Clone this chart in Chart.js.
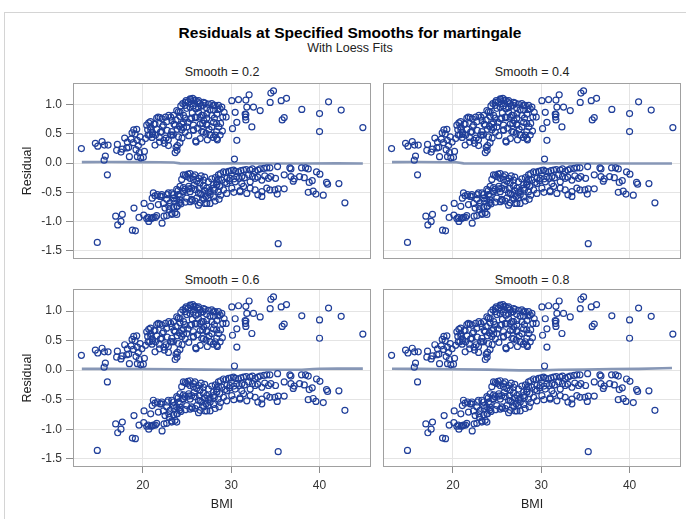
<!DOCTYPE html>
<html>
<head>
<meta charset="utf-8">
<script src="https://cdn.jsdelivr.net/npm/chart.js@4/dist/chart.umd.min.js"></script>
<style>
  html, body { margin: 0; padding: 0; background: #fff; }
  body { width: 686px; height: 519px; position: relative; overflow: hidden;
         font-family: 'Liberation Sans', Arial, sans-serif; }
  .outer { position: absolute; left: 4px; top: 12px; width: 700px; height: 520px;
           border: 1px solid #d4d4d4; box-sizing: border-box; }
  .txt { position: absolute; text-align: center; white-space: nowrap; }
  .panel { position: absolute; }
</style>
</head>
<body>
<div class="outer"></div>
<div class="txt" style="left:0;width:700px;top:23px;font-size:15.5px;line-height:19px;font-weight:bold;color:#000;">Residuals at Specified Smooths for martingale</div>
<div class="txt" style="left:0;width:700px;top:41px;font-size:12.5px;line-height:15px;color:#222;">With Loess Fits</div>
<div class="txt" id="h0" style="left:73px;width:298px;top:65px;font-size:12.5px;line-height:15px;color:#222;"></div>
<div class="txt" id="h1" style="left:383px;width:298px;top:65px;font-size:12.5px;line-height:15px;color:#222;"></div>
<div class="txt" id="h2" style="left:73px;width:298px;top:273px;font-size:12.5px;line-height:15px;color:#222;"></div>
<div class="txt" id="h3" style="left:383px;width:298px;top:273px;font-size:12.5px;line-height:15px;color:#222;"></div>

<div class="panel" style="left:0;top:78px;"><canvas id="c0" width="376" height="186"></canvas></div>
<div class="panel" style="left:378px;top:78px;"><canvas id="c1" width="308" height="186"></canvas></div>
<div class="panel" style="left:0;top:284px;"><canvas id="c2" width="376" height="228"></canvas></div>
<div class="panel" style="left:378px;top:284px;"><canvas id="c3" width="308" height="228"></canvas></div>

<script>
// Smoothing parameters of the four panels
const SMOOTHS = ['0.2', '0.4', '0.6', '0.8'];

// Axis ticks
const X_TICKS = [20, 30, 40];
const Y_TICKS = [-1.5, -1.0, -0.5, 0.0, 0.5, 1.0];

// Martingale residuals vs BMI: subjects with an event (positive residuals)
const EVENT_PTS = [
  [13.05,0.25],[14.63,0.34],[14.9,0.29],[15.39,0.37],[15.65,0.31],[16.07,0.31],[15.76,0.12],[15.62,0.05],
  [17.12,0.32],[17.04,0.22],[17.68,0.24],[17.95,0.43],[18.25,0.36],[18.48,0.11],[18.67,0.41],[18.78,0.52],
  [18.97,0.57],[19.31,0.58],[19.12,0.50],[19.38,0.39],[18.93,0.35],[19.5,0.30],[19.23,0.23],[19.6,0.18],
  [19.38,0.11],[19.76,0.09],[20.06,0.10],[20.18,0.20],[18.18,0.26],[17.53,0.19],[18.4,0.27],[20.44,0.65],
  [20.67,0.69],[20.55,0.57],[20.89,0.62],[21.12,0.50],[20.78,0.48],[21.04,0.44],[21.38,0.67],[21.57,0.77],
  [21.38,0.31],[21.95,0.78],[21.87,0.44],[22.14,0.54],[22.33,0.65],[22.44,0.34],[22.7,0.71],[22.63,0.43],
  [22.89,0.40],[23.16,0.79],[23.27,0.54],[23.53,0.67],[23.46,0.48],[23.76,0.27],[23.87,0.22],[23.76,0.74],
  [24.02,0.88],[24.21,0.80],[24.14,0.63],[24.4,0.57],[24.59,0.70],[24.44,0.43],[24.78,0.77],[24.97,0.62],
  [24.52,1.02],[24.78,0.99],[25.16,1.05],[25.42,1.09],[25.65,1.11],[25.91,1.08],[26.18,1.05],[26.48,1.02],
  [26.78,0.99],[27.04,1.03],[27.42,1.01],[27.8,1.02],[28.18,0.99],[24.97,0.94],[25.35,0.96],[25.72,0.98],
  [26.29,0.95],[25.53,0.77],[26.02,0.78],[26.48,0.79],[26.85,0.82],[27.23,0.77],[26.78,0.68],[27.23,0.65],
  [25.72,0.57],[26.18,0.60],[26.67,0.54],[27.16,0.51],[27.61,0.48],[27.99,0.44],[25.99,0.38],[28.36,0.54],
  [28.18,0.48],[28.44,0.40],[27.8,0.62],[28.36,0.68],[27.99,0.91],[25.35,1.10],[25.73,1.07],[24.79,1.04],
  [26.3,1.07],[26.86,1.04],[28.0,0.99],[28.56,0.99],[28.94,0.96],[28.75,0.93],[23.84,0.90],[24.22,0.87],
  [23.47,0.82],[24.6,0.82],[25.35,0.76],[25.92,0.79],[26.67,0.82],[27.24,0.84],[27.81,0.82],[28.37,0.84],
  [29.05,0.79],[29.43,0.79],[25.73,0.65],[26.49,0.67],[27.24,0.67],[28.0,0.70],[23.66,0.65],[24.41,0.67],
  [23.28,0.48],[24.03,0.45],[24.79,0.53],[25.73,0.56],[26.86,0.53],[27.62,0.48],[28.37,0.42],[28.75,0.48],
  [26.03,0.36],[23.92,0.30],[23.66,0.18],[30.15,0.59],[30.07,1.07],[30.83,1.09],[30.45,0.87],[30.64,0.70],
  [30.64,0.39],[32.03,1.17],[31.58,0.84],[31.77,0.96],[31.62,0.79],[32.52,0.96],[32.34,0.62],[33.28,0.90],
  [30.37,0.07],[31.66,1.08],[31.66,0.83],[31.66,0.74],[34.49,1.20],[34.79,1.24],[34.41,1.04],[35.66,1.07],
  [36.26,1.11],[36.0,0.78],[35.77,0.74],[37.99,0.92],[41.02,1.05],[40.0,0.85],[42.45,0.91],[40.0,0.54],
  [44.9,0.61],[20.87,0.71],[21.25,0.67],[21.74,0.79],[22.19,0.76],[22.57,0.79],[22.94,0.82],[22.0,0.53],
  [22.75,0.56],[22.38,0.39],[23.13,0.48],[20.6,0.48],[21.06,0.53],[21.43,0.48],[21.89,0.36],[24.3,0.98],
  [24.9,1.07],[25.5,1.02],[26.0,0.93],[26.6,0.98],[27.2,0.95],[27.6,0.91],[28.5,0.92],[29.2,0.87],
  [23.3,0.73],[23.9,0.58],[24.6,0.61],[25.1,0.70],[25.6,0.86],[26.3,0.87],[26.9,0.73],[27.5,0.58],
  [28.1,0.77],[28.6,0.62],[29.0,0.55],[22.2,0.62],[21.6,0.58],[20.9,0.57],[20.3,0.42],[19.7,0.45],
  [19.9,0.36],[22.9,0.30],[24.2,0.35],[25.2,0.47],[26.5,0.42],[27.3,0.40],[28.8,0.68]
];

// Martingale residuals vs BMI: censored subjects (negative residuals)
const CENSORED_PTS = [
  [14.85,-1.36],[15.99,-0.20],[16.93,-0.91],[17.68,-0.88],[17.16,-1.06],[17.53,-1.00],[18.82,-1.15],[19.16,-1.16],
  [19.0,-0.77],[19.57,-0.93],[20.14,-0.69],[20.1,-0.89],[20.44,-0.95],[20.67,-1.00],[20.93,-0.95],[21.19,-0.93],
  [21.42,-0.93],[22.18,-1.03],[21.57,-0.90],[20.89,-0.74],[21.19,-0.51],[21.38,-0.56],[21.65,-0.54],[21.95,-0.57],
  [22.14,-0.54],[21.76,-0.71],[22.33,-0.69],[22.51,-0.77],[22.7,-0.62],[22.89,-0.51],[23.27,-0.51],[23.46,-0.54],
  [23.08,-0.68],[23.53,-0.65],[23.84,-0.62],[22.4,-0.91],[22.7,-0.90],[23.27,-0.88],[23.65,-0.85],[23.91,-0.74],
  [24.14,-0.68],[24.21,-0.40],[24.4,-0.28],[24.59,-0.20],[24.97,-0.23],[25.35,-0.26],[25.72,-0.28],[26.1,-0.31],
  [26.48,-0.34],[26.85,-0.39],[27.23,-0.43],[27.61,-0.47],[27.99,-0.43],[28.36,-0.37],[28.55,-0.28],[24.52,-0.48],
  [24.78,-0.45],[25.16,-0.44],[25.53,-0.43],[25.91,-0.45],[26.29,-0.51],[26.67,-0.54],[27.16,-0.57],[24.97,-0.60],
  [25.53,-0.62],[25.91,-0.65],[26.48,-0.68],[27.04,-0.69],[27.61,-0.69],[28.18,-0.65],[24.21,-0.57],[23.84,-0.45],
  [24.02,-0.54],[28.63,-0.62],[25.35,-0.18],[25.73,-0.23],[26.3,-0.26],[26.86,-0.29],[27.43,-0.32],[28.0,-0.37],
  [28.56,-0.20],[29.13,-0.15],[29.69,-0.14],[30.26,-0.12],[30.83,-0.15],[31.39,-0.12],[32.15,-0.12],[32.71,-0.14],
  [33.28,-0.10],[34.03,-0.08],[28.37,-0.32],[28.94,-0.29],[29.51,-0.26],[29.88,-0.26],[30.64,-0.23],[31.2,-0.23],
  [31.96,-0.20],[32.71,-0.26],[33.47,-0.29],[34.22,-0.26],[24.6,-0.49],[25.35,-0.49],[26.49,-0.52],[27.62,-0.54],
  [28.56,-0.49],[29.13,-0.46],[30.07,-0.43],[31.01,-0.49],[31.77,-0.52],[32.71,-0.46],[33.47,-0.49],[34.03,-0.43],
  [23.47,-0.60],[24.22,-0.63],[25.35,-0.66],[26.3,-0.72],[27.24,-0.69],[23.84,-0.74],[23.28,-0.86],[23.84,-0.88],
  [28.37,-0.37],[29.51,-0.35],[30.45,-0.32],[31.2,-0.35],[32.15,-0.32],[34.38,-0.08],[35.25,-0.06],[36.64,-0.08],
  [36.76,-0.10],[37.96,-0.08],[38.42,-0.08],[38.72,-0.10],[39.66,-0.15],[40.04,-0.19],[34.49,-0.23],[35.02,-0.26],
  [36.0,-0.20],[36.76,-0.23],[37.13,-0.27],[37.02,-0.31],[37.74,-0.23],[38.27,-0.25],[39.17,-0.30],[38.83,-0.33],
  [40.79,-0.33],[40.91,-0.36],[42.19,-0.35],[34.38,-0.46],[34.94,-0.46],[35.32,-0.44],[36.0,-0.44],[35.21,-0.53],
  [38.72,-0.50],[39.28,-0.48],[39.59,-0.53],[40.42,-0.55],[42.87,-0.68],[35.32,-1.38],[33.47,-0.57],[32.15,-0.43],
  [33.02,-0.54],[31.4,-0.40],[20.6,-0.93],[21.06,-0.94],[22.11,-0.57],[22.75,-0.54],[21.06,-0.60],[22.94,-0.74],
  [24.8,-0.21],[25.1,-0.19],[25.9,-0.20],[26.6,-0.22],[27.0,-0.24],[27.8,-0.27],[28.2,-0.25],[28.8,-0.18],
  [29.4,-0.16],[30.0,-0.13],[30.5,-0.14],[31.1,-0.13],[31.7,-0.11],[32.4,-0.10],[33.0,-0.12],[33.7,-0.09],
  [24.0,-0.47],[24.6,-0.42],[25.2,-0.40],[25.8,-0.38],[26.4,-0.43],[27.0,-0.47],[27.4,-0.50],[28.1,-0.46],
  [28.7,-0.40],[29.3,-0.33],[29.8,-0.30],[30.3,-0.27],[30.9,-0.26],[31.5,-0.25],[32.4,-0.23],[33.0,-0.24],
  [33.8,-0.22],[23.0,-0.80],[23.5,-0.76],[24.3,-0.70],[24.8,-0.67],[25.6,-0.64],[26.1,-0.60],[26.9,-0.62],
  [27.4,-0.60],[28.0,-0.58],[28.8,-0.55],[29.5,-0.52],[30.3,-0.50],[31.0,-0.47]
];

// Loess fit of the residuals for each smoothing parameter
const FIT_X_02 = [13.1, 16, 19, 22, 23.5, 24.2, 27, 30, 34, 38, 42, 44.9];
const FIT_Y_02 = [0.017, 0.018, 0.017, 0.016, 0.012, -0.004, -0.006, -0.005, -0.006, -0.006, -0.005, -0.006];
const FIT_X_04 = [13.1, 16, 19, 20.4, 21.2, 24, 28, 32, 36, 40, 44.8];
const FIT_Y_04 = [0.017, 0.018, 0.016, 0.014, -0.004, -0.006, -0.006, -0.005, -0.006, -0.006, -0.006];
const FIT_X_06 = [13.1, 16, 20, 24, 27, 30, 34, 38, 39.3, 40, 42, 44.9];
const FIT_Y_06 = [0.022, 0.022, 0.020, 0.014, 0.008, 0.006, 0.006, 0.007, 0.018, 0.024, 0.025, 0.026];
const FIT_X_08 = [13.1, 16, 20, 24, 27.5, 30, 32, 35, 38, 41, 43.7, 44.8];
const FIT_Y_08 = [0.024, 0.022, 0.015, 0.008, -0.004, -0.005, 0.006, 0.008, 0.018, 0.022, 0.032, 0.035];

const FITS = [[FIT_X_02, FIT_Y_02], [FIT_X_04, FIT_Y_04], [FIT_X_06, FIT_Y_06], [FIT_X_08, FIT_Y_08]];

const FONT = "'Liberation Sans', Arial, sans-serif";
const MARKER = '#203f9a';
const FIT_COLOR = '#8797b6';

const framePlugin = {
  id: 'panelFrame',
  afterDraw(chart) {
    const { ctx, chartArea: a } = chart;
    ctx.save();
    ctx.strokeStyle = '#a0a0a0';
    ctx.lineWidth = 1;
    ctx.strokeRect(Math.round(a.left) + 0.5, Math.round(a.top) + 0.5,
                   Math.round(a.right - a.left) - 1, Math.round(a.bottom - a.top) - 1);
    ctx.restore();
  }
};

const scatterData = EVENT_PTS.concat(CENSORED_PTS).map(p => ({ x: p[0], y: p[1] }));

// Fixed axis sizes so that all four plot areas line up exactly
function fixSize(s, prop, size) {
  s[prop] = size;
  s.paddingTop = 0; s.paddingBottom = 0; s.paddingLeft = 0; s.paddingRight = 0;
}

function makePanel(idx, showY, showX) {
  document.getElementById('h' + idx).textContent = 'Smooth = ' + SMOOTHS[idx];
  const [fx, fy] = FITS[idx];
  const fitData = fx.map((x, i) => ({ x: x, y: fy[i] }));
  new Chart(document.getElementById('c' + idx), {
    type: 'scatter',
    data: {
      datasets: [
        {
          data: scatterData,
          pointStyle: 'circle',
          pointRadius: 3,
          pointBorderWidth: 1.2,
          pointBorderColor: MARKER,
          pointBackgroundColor: 'rgba(0,0,0,0)',
          showLine: false,
          order: 0
        },
        {
          data: fitData,
          showLine: true,
          borderColor: FIT_COLOR,
          borderWidth: 2.6,
          pointRadius: 0,
          tension: 0,
          fill: false,
          order: 1
        }
      ]
    },
    options: {
      responsive: false,
      animation: false,
      devicePixelRatio: 1,
      layout: { padding: { left: showY ? 0 : 5, right: 5, top: 5, bottom: showX ? 0 : 4 } },
      plugins: { legend: { display: false }, tooltip: { enabled: false } },
      scales: {
        x: {
          type: 'linear',
          min: 12.1,
          max: 45.8,
          afterBuildTicks: s => { s.ticks = X_TICKS.map(v => ({ value: v })); },
          afterFit: s => fixSize(s, 'height', showX ? 45 : 0),
          border: { display: false },
          grid: { color: '#e4e4e4', lineWidth: 1, drawTicks: showX, tickLength: 6, tickColor: '#8c8c8c' },
          ticks: { display: showX, padding: 5, color: '#333', font: { family: FONT, size: 12 },
                   maxRotation: 0, autoSkip: false, callback: v => String(v) },
          title: { display: showX, text: 'BMI', color: '#222', font: { family: FONT, size: 12.5 },
                   padding: { top: 0, bottom: 0 } }
        },
        y: {
          type: 'linear',
          min: -1.64,
          max: 1.37,
          afterBuildTicks: s => { s.ticks = Y_TICKS.map(v => ({ value: v })); },
          afterFit: s => fixSize(s, 'width', showY ? 73 : 0),
          border: { display: false },
          grid: { color: '#e4e4e4', lineWidth: 1, drawTicks: showY, tickLength: 7, tickColor: '#8c8c8c' },
          ticks: { display: showY, padding: 4, color: '#333', font: { family: FONT, size: 12 },
                   autoSkip: false, callback: v => Number(v).toFixed(1) },
          title: { display: showY, text: 'Residual', color: '#222', font: { family: FONT, size: 12.5 },
                   padding: { top: 20, bottom: 0 } }
        }
      }
    },
    plugins: [framePlugin]
  });
}

makePanel(0, true, false);
makePanel(1, false, false);
makePanel(2, true, true);
makePanel(3, false, true);
</script>
</body>
</html>
